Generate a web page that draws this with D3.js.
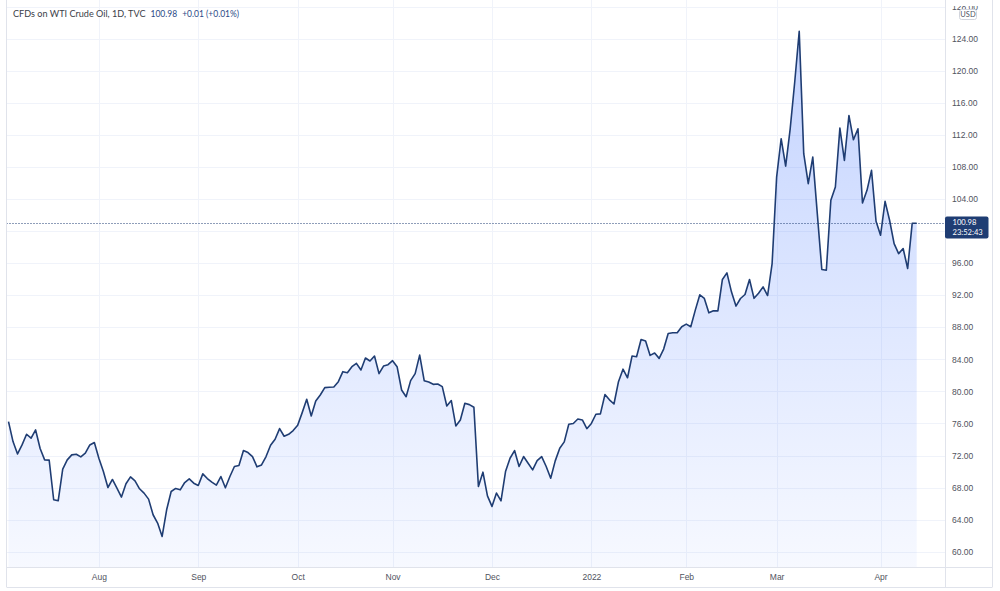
<!DOCTYPE html>
<html>
<head>
<meta charset="utf-8">
<script src="https://cdn.jsdelivr.net/npm/d3@7"></script>
<style>
    body { margin: 0; background: #fff; }
    svg { display: block; font-family: Lato, "Open Sans", sans-serif; }
</style>
</head>
<body>
<div id="chart"></div>
<script>
// daily closes, one per trading bar (early Jul 2021 -> 12 Apr 2022)
var closes = [
    76.23, 73.74, 72.20, 73.32, 74.65, 74.16, 75.19, 72.87, 71.46, 71.42,
    66.48, 66.35, 70.29, 71.46, 72.08, 72.16, 71.83, 72.29, 73.32, 73.62,
    71.66, 70.00, 68.01, 69.01, 67.93, 66.81, 68.47, 69.34, 68.84, 67.85,
    67.31, 66.56, 64.61, 63.57, 61.91, 65.23, 67.51, 67.89, 67.72, 68.63,
    69.09, 68.55, 68.26, 69.71, 69.13, 68.68, 68.30, 69.38, 67.97, 69.38,
    70.63, 70.75, 72.62, 72.37, 71.87, 70.59, 70.83, 71.87, 73.28, 74.03,
    75.36, 74.40, 74.65, 75.11, 75.77, 77.35, 79.01, 76.94, 78.80, 79.55,
    80.47, 80.51, 80.55, 81.21, 82.46, 82.33, 83.08, 83.50, 82.67, 84.16,
    83.79, 84.41, 82.21, 83.16, 83.33, 83.83, 83.08, 80.17, 79.34, 81.34,
    82.21, 84.53, 81.34, 81.17, 80.88, 80.92, 80.59, 78.18, 78.85, 75.69,
    76.44, 78.51, 78.35, 78.02, 68.14, 69.92, 66.97, 65.65, 67.31, 66.35,
    70.00, 71.66, 72.62, 70.63, 71.87, 71.04, 70.21, 71.37, 71.87, 70.63,
    69.17, 71.33, 72.91, 73.70, 75.90, 76.00, 76.55, 76.44, 75.35, 76.00,
    77.15, 77.20, 79.60, 78.95, 78.43, 81.21, 82.77, 81.70, 84.41, 84.33,
    86.48, 86.28, 84.49, 84.78, 84.12, 85.28, 87.23, 87.31, 87.31, 88.06,
    88.39, 88.06, 90.14, 92.05, 91.59, 89.80, 90.05, 90.05, 93.96, 94.79,
    92.42, 90.64, 91.59, 92.09, 93.96, 91.61, 92.25, 93.04, 91.96, 95.95,
    106.74, 111.52, 108.11, 112.76, 118.57, 124.92, 109.65, 105.91, 109.23, 102.18,
    95.20, 95.12, 103.84, 105.50, 112.84, 108.82, 114.42, 111.39, 112.76, 103.50,
    105.08, 107.57, 101.22, 99.48, 103.71, 101.35, 98.44, 97.19, 97.82, 95.33,
    100.97, 100.98
];

// first bar of each month and its label
var monthLabels = ["Aug", "Sep", "Oct", "Nov", "Dec", "2022", "Feb", "Mar", "Apr"];
var monthBars = [20, 42, 64, 85, 107, 129, 150, 170, 193];

// price axis ticks
var priceTicks = [60, 64, 68, 72, 76, 80, 84, 88, 92, 96, 100, 104, 108, 112, 116, 120, 124, 128];

var titleText = "CFDs on WTI Crude Oil, 1D, TVC";
var lastText = "100.98";
var changeText = "+0.01 (+0.01%)";
var countdownText = "23:52:43";

var width = 1000,
    height = 591,
    paneLeft = 6.5,
    paneRight = 945,
    paneBottom = 567,
    outerRight = 992,
    outerBottom = 587;

var navy = "#1f3d73",
    border = "#e0e3eb",
    grid = "#f0f3fa",
    textGray = "#50535e";

var svg = d3.select("#chart")
    .append("svg")
    .attr("width", width)
    .attr("height", height);

// bar index -> x
var x = d3.scaleLinear()
    .domain([0, closes.length - 1])
    .range([8.5, 916.7]);

var y = d3.scaleLinear()
    .domain([60, 124])
    .range([551.7, 38.7]);

var last = closes[closes.length - 1];

var defs = svg.append("defs");

defs.append("clipPath")
    .attr("id", "pane-clip")
    .append("rect")
    .attr("x", paneLeft)
    .attr("y", 0)
    .attr("width", paneRight - paneLeft)
    .attr("height", paneBottom);

// clip in the axis group's own coordinates (top label is cut)
defs.append("clipPath")
    .attr("id", "axis-clip")
    .append("rect")
    .attr("x", 0)
    .attr("y", 6)
    .attr("width", outerRight - paneRight)
    .attr("height", paneBottom - 6);

// area fill gradient
defs.append("linearGradient")
    .attr("id", "area-gradient")
    .attr("gradientUnits", "userSpaceOnUse")
    .attr("x1", 0)
    .attr("y1", y(d3.max(closes)))
    .attr("x2", 0)
    .attr("y2", paneBottom)
    .selectAll("stop")
    .data([
        {offset: "0%", color: "rgba(41,98,255,0.28)"},
        {offset: "100%", color: "rgba(41,98,255,0.04)"}
    ])
    .enter().append("stop")
    .attr("offset", d => d.offset)
    .attr("stop-color", d => d.color);

var pane = svg.append("g")
    .attr("clip-path", "url(#pane-clip)");

//horizontal grid
pane.selectAll(".hgrid")
    .data(priceTicks)
    .enter()
    .append("line")
    .attr("class", "hgrid")
    .attr("x1", paneLeft)
    .attr("x2", paneRight)
    .attr("y1", d => Math.round(y(d)) + 0.5)
    .attr("y2", d => Math.round(y(d)) + 0.5)
    .style("stroke", grid);

//vertical grid
pane.selectAll(".vgrid")
    .data(monthBars)
    .enter()
    .append("line")
    .attr("class", "vgrid")
    .attr("x1", d => Math.round(x(d)) + 0.5)
    .attr("x2", d => Math.round(x(d)) + 0.5)
    .attr("y1", 0)
    .attr("y2", paneBottom)
    .style("stroke", grid);

//area
pane.append("path")
    .datum(closes)
    .attr("d", d3.area()
        .x((d, i) => x(i))
        .y0(paneBottom)
        .y1(d => y(d)))
    .attr("fill", "url(#area-gradient)")
    .attr("stroke", "none");

// last price dotted line
pane.append("line")
    .attr("x1", paneLeft)
    .attr("x2", paneRight)
    .attr("y1", Math.round(y(last)) + 0.5)
    .attr("y2", Math.round(y(last)) + 0.5)
    .style("stroke", navy)
    .style("stroke-width", 1)
    .style("stroke-dasharray", "1,2");

//line
pane.append("path")
    .datum(closes)
    .attr("d", d3.line()
        .x((d, i) => x(i))
        .y(d => y(d)))
    .attr("fill", "none")
    .attr("stroke", navy)
    .attr("stroke-width", 1.6)
    .attr("stroke-linejoin", "round");

// borders
var frame = svg.append("g")
    .style("stroke", border)
    .style("fill", "none");
frame.append("line").attr("x1", paneLeft).attr("x2", paneLeft).attr("y1", 0).attr("y2", outerBottom);
frame.append("line").attr("x1", paneRight + 0.5).attr("x2", paneRight + 0.5).attr("y1", 0).attr("y2", outerBottom);
frame.append("line").attr("x1", outerRight + 0.5).attr("x2", outerRight + 0.5).attr("y1", 0).attr("y2", outerBottom);
frame.append("line").attr("x1", paneLeft).attr("x2", outerRight + 0.5).attr("y1", paneBottom + 0.5).attr("y2", paneBottom + 0.5);
frame.append("line").attr("x1", paneLeft).attr("x2", outerRight + 0.5).attr("y1", outerBottom + 0.5).attr("y2", outerBottom + 0.5);

//price axis, labels under the last price box are hidden
var yAxis = d3.axisRight(y)
    .tickValues(priceTicks.filter(d => Math.abs(y(d) - y(last)) > 14))
    .tickSize(0)
    .tickPadding(7)
    .tickFormat(d3.format(".2f"));

svg.append("g")
    .attr("class", "y-axis")
    .attr("clip-path", "url(#axis-clip)")
    .attr("transform", "translate(" + paneRight + ",0)")
    .call(yAxis)
    .call(g => g.select(".domain").remove())
    .selectAll("text")
    .style("font-size", "8.5px")
    .style("fill", textGray);

//time axis
var xAxis = d3.axisBottom(x)
    .tickValues(monthBars)
    .tickSize(0)
    .tickPadding(7)
    .tickFormat((d, i) => monthLabels[i]);

svg.append("g")
    .attr("class", "x-axis")
    .attr("transform", "translate(0," + paneBottom + ")")
    .call(xAxis)
    .call(g => g.select(".domain").remove())
    .selectAll("text")
    .style("font-size", "8.5px")
    .style("fill", textGray);

// USD badge
svg.append("rect")
    .attr("x", 959.5)
    .attr("y", 9.5)
    .attr("width", 17)
    .attr("height", 10)
    .attr("rx", 2)
    .style("fill", "#fff")
    .style("stroke", "#d1d4dc");
svg.append("text")
    .attr("x", 968)
    .attr("y", 17.3)
    .attr("text-anchor", "middle")
    .style("font-size", "7.5px")
    .style("fill", textGray)
    .text("USD");

// last price label
svg.append("rect")
    .attr("x", paneRight)
    .attr("y", 216.5)
    .attr("width", 43.5)
    .attr("height", 22)
    .attr("rx", 2)
    .style("fill", navy);
svg.append("text")
    .attr("x", 952.5)
    .attr("y", 225.2)
    .style("font-size", "7.6px")
    .style("fill", "#fff")
    .text(lastText);
svg.append("text")
    .attr("x", 952.5)
    .attr("y", 235.2)
    .style("font-size", "7.6px")
    .style("fill", "#fff")
    .text(countdownText);

// legend
var legend = svg.append("text")
    .attr("x", 13)
    .attr("y", 17)
    .style("font-size", "9.1px");
legend.append("tspan")
    .style("fill", "#3b3e48")
    .text(titleText);
legend.append("tspan")
    .attr("dx", 5)
    .style("fill", "#2a4a86")
    .style("font-size", "8.5px")
    .text(lastText);
legend.append("tspan")
    .attr("dx", 5)
    .style("fill", "#2a4a86")
    .style("font-size", "8.5px")
    .text(changeText);
</script>
</body>
</html>
